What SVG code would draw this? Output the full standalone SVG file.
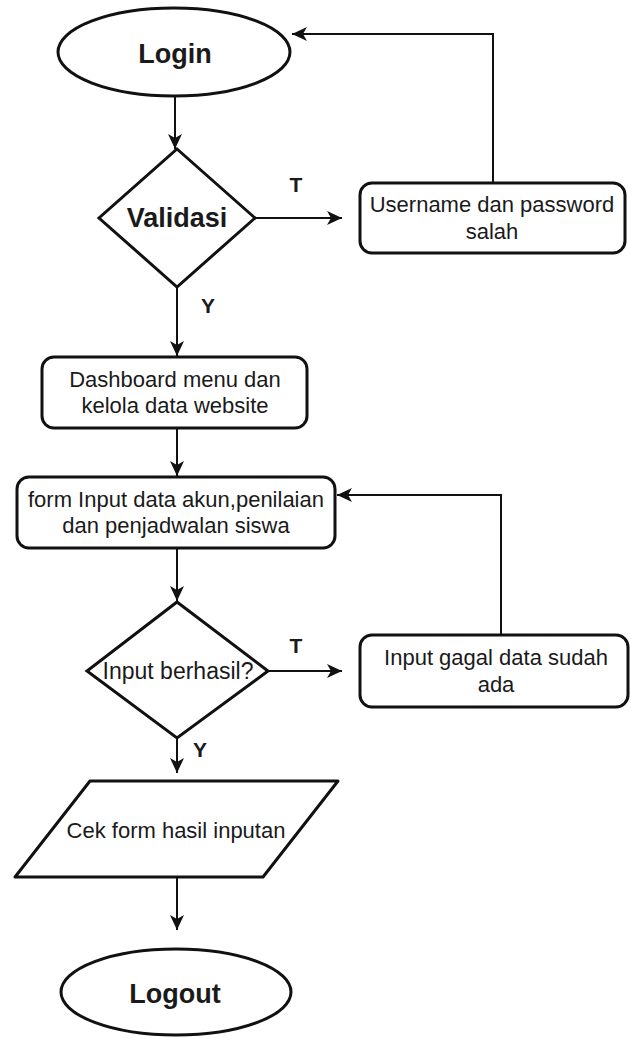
<svg xmlns="http://www.w3.org/2000/svg" width="641" height="1038" viewBox="0 0 641 1038">
<style>
.shape{fill:#fff;stroke:#111;stroke-width:3}
.conn{fill:none;stroke:#111;stroke-width:2}
.t{font-family:"Liberation Sans",Arial,sans-serif;font-size:22px;fill:#1a1a1a;text-anchor:middle}
.b{font-family:"Liberation Sans",Arial,sans-serif;font-weight:bold;font-size:27px;fill:#1a1a1a;text-anchor:middle}
.lbl{font-family:"Liberation Sans",Arial,sans-serif;font-weight:bold;font-size:21px;fill:#1a1a1a;text-anchor:middle}
</style>
<defs>
<marker id="arr" markerUnits="userSpaceOnUse" markerWidth="16" markerHeight="14" refX="15" refY="7" orient="auto">
<path d="M0,0 L15,7 L0,14 L4,7 z" fill="#111"/>
</marker>
</defs>
<rect width="641" height="1038" fill="#fff"/>
<g id="connectors">
<line class="conn" x1="175" y1="97" x2="175" y2="149" marker-end="url(#arr)"/>
<line class="conn" x1="255" y1="218" x2="342" y2="218" marker-end="url(#arr)"/>
<polyline class="conn" points="493,183 493,34 292,34" marker-end="url(#arr)"/>
<line class="conn" x1="177" y1="287" x2="177" y2="356" marker-end="url(#arr)"/>
<line class="conn" x1="177" y1="428" x2="177" y2="476" marker-end="url(#arr)"/>
<line class="conn" x1="177" y1="548" x2="177" y2="601" marker-end="url(#arr)"/>
<line class="conn" x1="268" y1="671" x2="342" y2="671" marker-end="url(#arr)"/>
<polyline class="conn" points="501,635 501,495 337,495" marker-end="url(#arr)"/>
<line class="conn" x1="177" y1="738" x2="177" y2="773" marker-end="url(#arr)"/>
<line class="conn" x1="177" y1="877" x2="177" y2="930" marker-end="url(#arr)"/>
<text class="lbl" x="296" y="192">T</text>
<text class="lbl" x="208" y="313">Y</text>
<text class="lbl" x="296" y="653">T</text>
<text class="lbl" x="200" y="757">Y</text>
</g>
<g id="login">
<ellipse class="shape" cx="174" cy="52" rx="116" ry="44"/>
<text class="b" x="175" y="63">Login</text>
</g>
<g id="validasi">
<polygon class="shape" points="177,149 255,218 177,287 99,218"/>
<text class="b" x="177" y="227">Validasi</text>
</g>
<g id="salah">
<rect class="shape" x="360" y="183" width="265" height="70" rx="12"/>
<text class="t" x="492" y="212">Username dan password</text>
<text class="t" x="492" y="239">salah</text>
</g>
<g id="dashboard">
<rect class="shape" x="42" y="357" width="265" height="71" rx="12"/>
<text class="t" x="175" y="387">Dashboard menu dan</text>
<text class="t" x="175" y="413">kelola data website</text>
</g>
<g id="form">
<rect class="shape" x="17" y="477" width="318" height="71" rx="12"/>
<text class="t" x="176" y="507">form Input data akun,penilaian</text>
<text class="t" x="176" y="533">dan penjadwalan siswa</text>
</g>
<g id="berhasil">
<polygon class="shape" points="177,602 268,671 177,738 87,671"/>
<text class="t" x="178" y="679" style="font-size:23px">Input berhasil?</text>
</g>
<g id="gagal">
<rect class="shape" x="360" y="635" width="268" height="72" rx="12"/>
<text class="t" x="496" y="665">Input gagal data sudah</text>
<text class="t" x="496" y="692">ada</text>
</g>
<g id="cek">
<polygon class="shape" points="90,781 338,781 263,877 15,877" stroke-linejoin="round"/>
<text class="t" x="176" y="838">Cek form hasil inputan</text>
</g>
<g id="logout">
<ellipse class="shape" cx="176" cy="992" rx="115" ry="43"/>
<text class="b" x="175" y="1003">Logout</text>
</g>
</svg>
